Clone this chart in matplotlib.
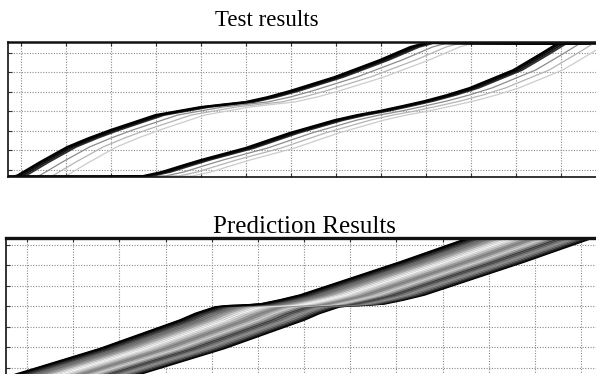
import numpy as np
import matplotlib
matplotlib.use("Agg")
import matplotlib.pyplot as plt

# test results: two platoons of trajectories (time vs. distance, grid units)
lead_t = [-0.36, -0.07, 0.42, 1.02, 1.50, 1.98, 2.98, 3.98, 4.47, 4.98, 5.47, 5.96, 6.96, 7.96, 8.64, 8.96, 9.76, 12.87]
lead_d = [-0.51, -0.26, 0.41, 1.18, 1.64, 2.05, 2.82, 3.23, 3.36, 3.49, 3.74, 4.05, 4.77, 5.64, 6.31, 6.51, 6.49, 6.46]

follow_t = [-0.69, 1.76, 2.70, 3.12, 3.55, 3.98, 4.98, 5.96, 6.96, 7.46, 7.96, 8.46, 8.96, 9.46, 9.96, 10.93, 11.53, 11.89, 12.87]
follow_d = [-0.33, -0.33, -0.31, -0.10, 0.21, 0.51, 1.13, 1.90, 2.56, 2.82, 3.03, 3.28, 3.54, 3.85, 4.21, 5.13, 5.95, 6.46, 6.51]

# time offsets of the individual vehicles inside each platoon, and their shade
test_shifts = [1.1, 0.8, 0.5, 0.2, 0.13, 0.06, 0.0]
test_grays = ["#cccccc", "#b4b4b4", "#8c8c8c", "#303030", "#151515", "#000000", "#000000"]
test_widths = [0.9, 0.9, 0.9, 1.3, 1.3, 1.3, 1.4]

# prediction results: front trajectory of the band
pred_t = [-0.80, -0.37, 1.58, 3.31, 3.64, 4.07, 4.35, 4.57, 5.04, 5.47, 5.91, 8.07, 9.55, 10.02]
pred_d = [-0.98, -0.39, 0.95, 2.34, 2.66, 2.98, 3.04, 3.05, 3.12, 3.32, 3.56, 5.17, 6.34, 6.73]

pred_shifts = [2.70, 2.64, 2.58, 2.50, 2.40, 2.30, 2.20, 2.10, 2.00, 1.90, 1.80, 1.70,
               1.60, 1.50, 1.40, 1.30, 1.20, 1.10, 1.00, 0.90, 0.80, 0.70, 0.60, 0.50,
               0.40, 0.30, 0.22, 0.14, 0.08, 0.04, 0.00]
pred_grays = [0.0, 0.05, 0.15, 0.3, 0.45, 0.55, 0.45, 0.3, 0.25, 0.45, 0.65, 0.8,
              0.7, 0.55, 0.5, 0.6, 0.75, 0.85, 0.95, 0.9, 0.8, 0.65, 0.55, 0.45,
              0.4, 0.3, 0.2, 0.12, 0.06, 0.02, 0.0]

SERIF = ["Liberation Serif", "DejaVu Serif"]
W, H = 596, 374

fig = plt.figure(figsize=(W / 100, H / 100), dpi=100)
fig.patch.set_facecolor("white")


def px_axes(left, top, right, bottom):
    return fig.add_axes([left / W, 1 - bottom / H, (right - left) / W, (bottom - top) / H])


def style(ax, xlim, ylim, nx, ny, top_lw):
    ax.set_xlim(*xlim)
    ax.set_ylim(*ylim)
    ax.set_xticks(range(0, nx))
    ax.set_yticks(range(0, ny))
    ax.grid(True, color="#8a8a8a", linestyle=(0, (1, 1.4)), linewidth=0.8)
    ax.set_axisbelow(True)
    ax.tick_params(direction="in", length=3, width=0.8, top=True, right=False,
                   labelbottom=False, labelleft=False, color="#333333")
    ax.spines["right"].set_visible(False)
    ax.spines["top"].set_linewidth(top_lw)
    ax.spines["left"].set_linewidth(1.2)
    ax.spines["bottom"].set_linewidth(1.2)
    for s in ax.spines.values():
        s.set_color("#111111")


#test panel
ax1 = px_axes(8, 42, 602, 177)
style(ax1, (-0.289, 12.9), (-0.359, 6.564), 13, 7, 1.8)
for base_t, base_d in [(lead_t, lead_d), (follow_t, follow_d)]:
    bt = np.array(base_t)
    for sh, c, lw in zip(test_shifts, test_grays, test_widths):
        ax1.plot(bt + sh, base_d, color=c, linewidth=lw, solid_joinstyle="round")

fig.text(267 / W, 1 - 20 / H, "Test results", ha="center", va="center",
         family=SERIF, fontsize=16.5)

#prediction panel
ax2 = px_axes(6, 238, 602, 378)
style(ax2, (-0.455, 12.45), (-0.49, 6.34), 13, 7, 2.4)
pt = np.array(pred_t)
poly_t = np.concatenate([pt, (pt + pred_shifts[0])[::-1]])
poly_d = np.concatenate([pred_d, pred_d[::-1]])
ax2.fill(poly_t, poly_d, color="#9a9a9a", linewidth=0)
for sh, g in zip(pred_shifts, pred_grays):
    ax2.plot(pt + sh, pred_d, color=str(g), linewidth=1.1, solid_joinstyle="round")

fig.text(304 / W, 1 - 227 / H, "Prediction Results", ha="center", va="center",
         family=SERIF, fontsize=18)

fig.savefig("out.png", dpi=100, facecolor="white")
